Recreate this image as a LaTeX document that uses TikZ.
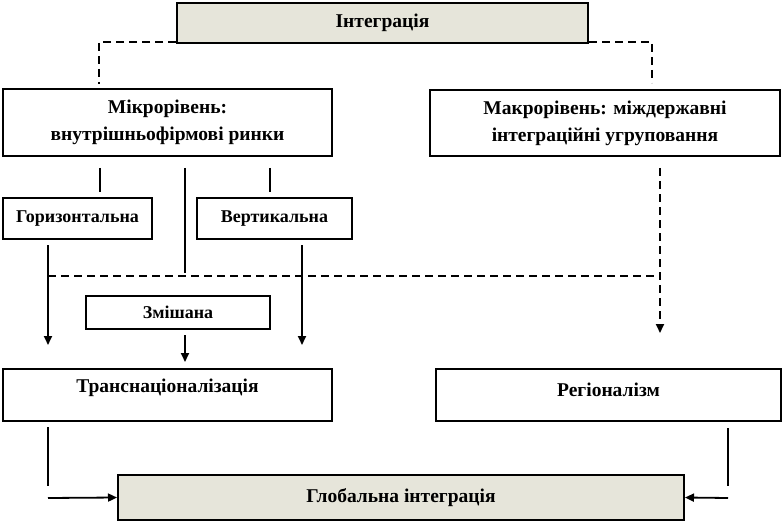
\documentclass[tikz,border=0pt]{standalone}
\usepackage{fontspec}
\setmainfont{Liberation Serif}
\usetikzlibrary{arrows.meta,calc}
\definecolor{beige}{RGB}{230,229,218}
\tikzset{
  bigfont/.style={font=\bfseries\fontsize{19.5}{27}\selectfont},
  smallfont/.style={font=\bfseries\fontsize{18}{24}\selectfont},
  box/.style={draw=black, line width=2pt, fill=white, inner sep=0pt, align=center, bigfont},
  sbox/.style={box, smallfont},
  gbox/.style={box, fill=beige},
  conn/.style={line width=1.8pt},
  dconn/.style={line width=1.8pt, dash pattern=on 8pt off 5pt},
  arr/.style={-{Triangle[length=9pt,width=8pt]}}
}
\begin{document}
\begin{tikzpicture}[x=1pt,y=-1pt]
\useasboundingbox (0,0) rectangle (782,524);
% boxes
\node[gbox, minimum width=411, minimum height=40] (integ) at (382.5,23) {Інтеграція};
\node[box, minimum width=329, minimum height=67] (micro) at (167.5,122.5) {Мікрорівень:\\внутрішньофірмові ринки};
\node[box, minimum width=350, minimum height=66] (macro) at (605,123) {Макрорівень: міждержавні\\інтеграційні угруповання};
\node[sbox, minimum width=149, minimum height=41] (hor) at (77.5,218.5) {Горизонтальна};
\node[sbox, minimum width=155, minimum height=41] (vert) at (274.5,218.5) {Вертикальна};
\node[sbox, minimum width=184, minimum height=33] (mix) at (178,312) {Змішана};
\node[box, minimum width=329, minimum height=52,
  label={[bigfont, yshift=7pt]center:Транснаціоналізація}] (trans) at (167.5,395) {};
\node[box, minimum width=345, minimum height=52,
  label={[bigfont, yshift=5pt]center:Регіоналізм}] (region) at (608.5,395) {};
\node[gbox, minimum width=566, minimum height=45] (glob) at (401,497.5) {Глобальна інтеграція};
% coordinates
\coordinate (dl) at (99,84);
\coordinate (dr) at (652,83);
\coordinate (m1a) at (100,168); \coordinate (m1b) at (100,192);
\coordinate (m2a) at (185,168); \coordinate (m2b) at (185,273);
\coordinate (m3a) at (270,168); \coordinate (m3b) at (270,192);
\coordinate (hl) at (48,276); \coordinate (hr) at (660,276);
\coordinate (mva) at (660,168); \coordinate (mvb) at (660,333);
\coordinate (ha) at (48,245); \coordinate (hb) at (48,345);
\coordinate (va) at (302,245); \coordinate (vb) at (302,345);
\coordinate (xa) at (185,335); \coordinate (xb) at (185,362);
\coordinate (ta) at (48,427); \coordinate (tb) at (48,486); \coordinate (tc) at (48,498);
\coordinate (ra) at (728,428); \coordinate (rb) at (728,486); \coordinate (rc) at (728,498);
% connectors
\draw[dconn] ($(integ.south west)+(0,-2)$) -| (dl);
\draw[dconn] ($(integ.south east)+(0,-2)$) -| (dr);
\draw[conn] (m1a) -- (m1b);
\draw[conn] (m2a) -- (m2b);
\draw[conn] (m3a) -- (m3b);
\draw[dconn] (hl) -- (hr);
\draw[dconn, arr] (mva) -- (mvb);
\draw[conn, arr] (ha) -- (hb);
\draw[conn, arr] (va) -- (vb);
\draw[conn, arr] (xa) -- (xb);
\draw[conn] (ta) -- (tb);
\draw[conn, arr] (tc) -- (glob.west);
\draw[conn] (ra) -- (rb);
\draw[conn, arr] (rc) -- (glob.east);
\end{tikzpicture}
\end{document}
